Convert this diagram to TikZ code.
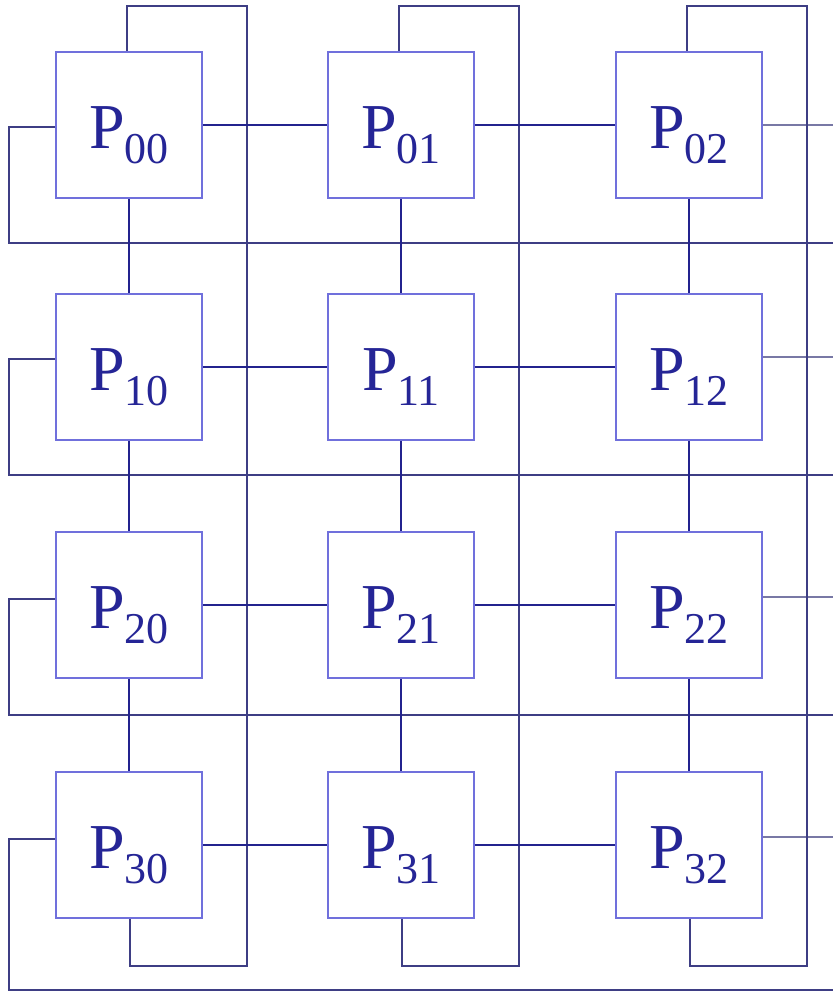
\documentclass[tikz,border=0pt]{standalone}
\usepackage{fontspec}
\setmainfont{Liberation Serif}
\definecolor{boxc}{RGB}{112,112,220}
\definecolor{linkc}{RGB}{35,35,142}
\definecolor{wrapc}{RGB}{62,62,132}
\definecolor{stubc}{RGB}{120,120,165}
\definecolor{textc}{RGB}{37,37,150}
\tikzset{
  pbox/.style={draw=boxc, line width=2pt, fill=white, minimum width=144pt, minimum height=144pt, inner sep=0pt},
  plabel/.style={text=textc, inner sep=0pt, anchor=base},
  link/.style={draw=linkc, line width=2pt},
  wrap/.style={draw=wrapc, line width=1.2pt},
  rstub/.style={draw=stubc, line width=1.5pt}
}
\newcommand{\plab}[1]{{\fontsize{64}{64}\selectfont P}\raisebox{-15pt}{\fontsize{44}{44}\selectfont #1}}
\begin{document}
\begin{tikzpicture}[x=1pt,y=-1pt]
\useasboundingbox (0,0) rectangle (833,993);
% boxes (positions)
\foreach \r/\cy in {0/125,1/366.5,2/605,3/845}{
  \foreach \c/\cx in {0/129,1/401,2/689}{
    \node[pbox] (p\r\c) at (\cx,\cy) {};
  }
}
\coordinate (E) at (833,0);
% row wraparound
\foreach \r/\sl/\sr/\b in {0/127/125/243, 1/359/357/475, 2/599/597/715, 3/839/837/990}{
  \draw[wrap] (p\r0.west |- 0,\sl) -- (9,\sl) |- (E |- 0,\b);
  \draw[rstub] (p\r2.east |- 0,\sr) -- (E |- 0,\sr);
}
% column wraparound
\foreach \c/\ts/\bs/\w in {0/127/130/247, 1/399/402/519, 2/687/690/807}{
  \draw[wrap] (p0\c.north -| \ts,0) |- (\w,6) |- (\bs,966) -- (p3\c.south -| \bs,0);
}
% mesh links
\foreach \r in {0,1,2,3}{
  \draw[link] (p\r0) -- (p\r1);
  \draw[link] (p\r1) -- (p\r2);
}
\foreach \c in {0,1,2}{
  \draw[link] (p0\c) -- (p1\c);
  \draw[link] (p1\c) -- (p2\c);
  \draw[link] (p2\c) -- (p3\c);
}
% redraw boxes on top
\foreach \r in {0,1,2,3}{
  \foreach \c in {0,1,2}{
    \draw[draw=boxc, line width=2pt, fill=white] (p\r\c.south west) rectangle (p\r\c.north east);
    \node[plabel] (l\r\c) at ([yshift=-23.5pt]p\r\c.center) {\plab{\r\c}};
  }
}
\end{tikzpicture}
\end{document}
